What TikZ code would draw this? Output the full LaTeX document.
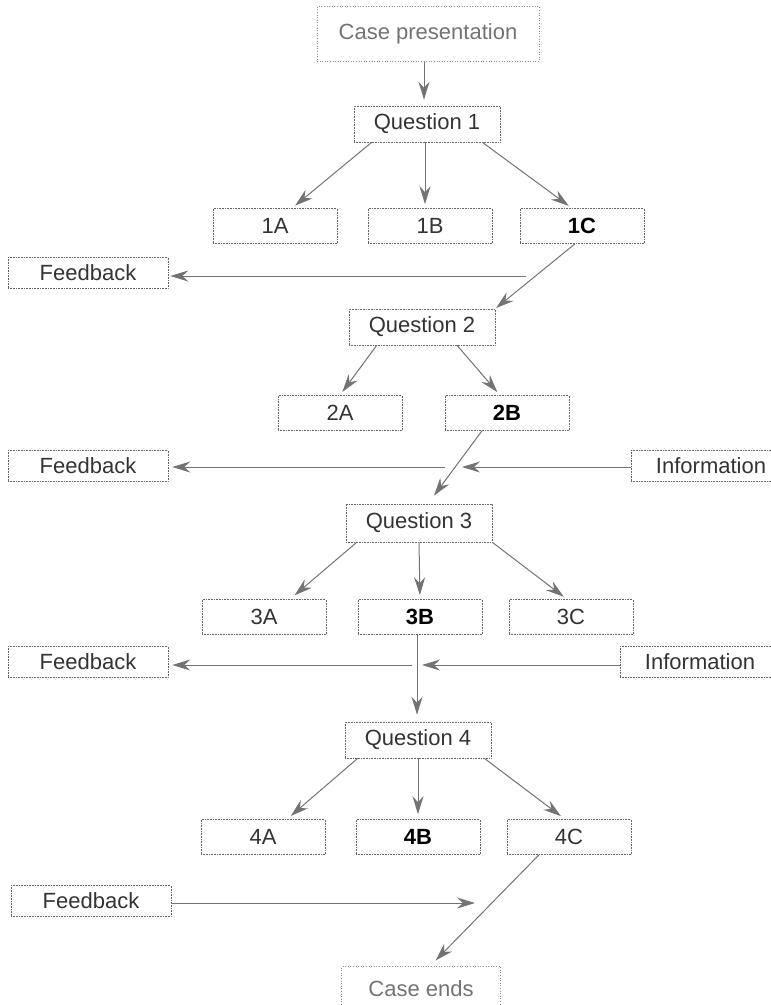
\documentclass[tikz,border=0pt]{standalone}
\usepackage{fontspec}
\setmainfont{Liberation Sans}
\usetikzlibrary{arrows.meta}

\begin{document}
\begin{tikzpicture}[x=1pt,y=-1pt,>={Stealth[length=18pt,width=11pt,inset=6pt]},
	box/.style={draw=black!60,densely dotted,line width=.6pt,inner sep=0pt,
		font=\fontsize{22}{24}\selectfont,text=black!80},
	question/.style={box,minimum width=146pt,minimum height=36pt},
	answer/.style={box,minimum width=124pt,minimum height=35pt},
	correct/.style={answer,font=\fontsize{22}{24}\selectfont\bfseries,text=black},
	side/.style={box,minimum width=160pt,minimum height=31pt},
	ends/.style={box,draw=black!45,dotted,text=black!55},
	link/.style={->,draw=black!55,line width=1pt}]
	\useasboundingbox (0,0) rectangle (771,1005);

	\node[ends,minimum width=222pt,minimum height=55pt] (start) at (428,34) {Case presentation};

	\node[question] (q1) at (427,124) {Question 1};
	\node[answer] (a1) at (275,226) {1A};
	\node[answer] (b1) at (430,226) {1B};
	\node[correct] (c1) at (582,226) {1C};
	\node[side] (fb1) at (88,273) {Feedback};

	\node[question] (q2) at (422,327) {Question 2};
	\node[answer] (a2) at (340,413) {2A};
	\node[correct] (b2) at (507,413) {2B};
	\node[side] (fb2) at (88,466) {Feedback};
	\node[side] (in2) at (711,466) {Information};

	\node[question,minimum height=38pt] (q3) at (419,523) {Question 3};
	\node[answer] (a3) at (264,617) {3A};
	\node[correct] (b3) at (420,617) {3B};
	\node[answer] (c3) at (571,617) {3C};
	\node[side] (fb3) at (88,662) {Feedback};
	\node[side] (in3) at (700,662) {Information};

	\node[question] (q4) at (418,740) {Question 4};
	\node[answer] (a4) at (263,837) {4A};
	\node[correct] (b4) at (418,837) {4B};
	\node[answer] (c4) at (569,837) {4C};
	\node[side] (fb4) at (91,901) {Feedback};

	\node[ends,minimum width=159pt,minimum height=45pt] (end) at (421,989) {Case ends};

	\coordinate (f1) at (526,276);
	\coordinate (f2) at (445,467);
	\coordinate (i2) at (462,467);
	\coordinate (f3) at (412,665);
	\coordinate (i3) at (422,665);
	\coordinate (f4) at (475,903);

	\draw[link,shorten >=6pt] ([xshift=-4pt]start.south) -- ([xshift=-3pt]q1.north);

	\draw[link,shorten >=4pt] ([xshift=18pt]q1.south west) -- ([xshift=17pt]a1.north);
	\draw[link,shorten >=4pt] ([xshift=-2pt]q1.south) -- ([xshift=-5pt]b1.north);
	\draw[link,shorten >=4pt] ([xshift=-18pt]q1.south east) -- ([xshift=-10pt]c1.north);
	\draw[link,shorten >=1pt] ([xshift=-7pt]c1.south) -- (q2.north east);
	\draw[link,shorten >=2pt] (f1) -- (f1 -| fb1.east);

	\draw[link,shorten >=4pt] ([xshift=28pt]q2.south west) -- (a2.north);
	\draw[link,shorten >=4pt] ([xshift=35pt]q2.south) -- ([xshift=-7pt]b2.north);
	\draw[link,shorten >=10pt] ([xshift=-25pt]b2.south) -- ([xshift=9pt]q3.north);
	\draw[link,shorten >=4pt] (f2) -- (f2 -| fb2.east);
	\draw[link] (i2 -| in2.west) -- (i2);

	\draw[link,shorten >=6pt] ([xshift=11pt]q3.south west) -- ([xshift=26pt]a3.north);
	\draw[link,shorten >=4pt] (q3.south) -- (b3.north);
	\draw[link,shorten >=4pt] (q3.south east) -- ([xshift=-4pt]c3.north);
	\draw[link,shorten >=7pt] ([xshift=-3pt]b3.south) -- ([xshift=-1pt]q4.north);
	\draw[link,shorten >=4pt] (f3) -- (f3 -| fb3.east);
	\draw[link] (i3 -| in3.west) -- (i3);

	\draw[link,shorten >=5pt] ([xshift=13pt]q4.south west) -- ([xshift=24pt]a4.north);
	\draw[link,shorten >=5pt] (q4.south) -- (b4.north);
	\draw[link,shorten >=5pt] ([xshift=-7pt]q4.south east) -- ([xshift=-4pt]c4.north);
	\draw[link] (f4 -| fb4.east) -- (f4);
	\draw[link,shorten >=8pt] ([xshift=-30pt]c4.south) -- ([xshift=9pt]end.north);
\end{tikzpicture}
\end{document}
